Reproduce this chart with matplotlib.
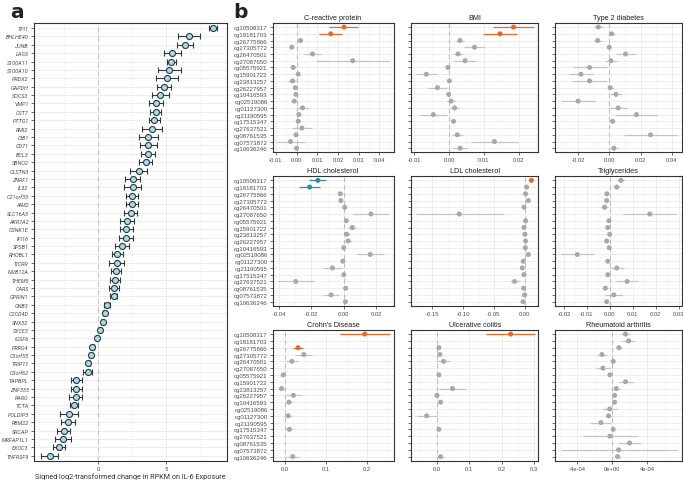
import numpy as np
import matplotlib
matplotlib.use("Agg")
import matplotlib.pyplot as plt
from matplotlib.ticker import FixedLocator, FuncFormatter

nan = np.nan

# ---- panel a: gene expression changes ----
genes = ["TPI1", "BHLHE40", "JUNB", "LAG3", "S100A11", "S100A10", "PRDX2", "GAPDH",
         "SOCS3", "VMP1", "CST7", "PTTG1", "RMI2", "CIB1", "CD71", "BCL3", "SBNO2",
         "CLSTN3", "ZNRF1", "IL32", "C21orf33", "AIM2", "SLC16A3", "AKR7A2", "CSNK1E",
         "IFI16", "SPSB1", "RHOBL1", "TICRR", "MVB12A", "THEM5", "CARS", "GPRIN1",
         "GNB3", "C2CD4D", "SNX32", "SYCE3", "IGSF6", "PRRG4", "C5orf55", "TRIP11",
         "C3orf62", "TAPBPL", "ZNF335", "RARG", "TCTA", "POLDIP3", "RBM22", "SRCAP",
         "MRFAP1L1", "EXOC3", "TNFRSF9"]
gene_fc = [8.42, 6.68, 6.39, 5.46, 5.39, 5.24, 5.05, 4.83, 4.56, 4.27, 4.22, 4.14,
           3.97, 3.70, 3.68, 3.66, 3.49, 2.97, 2.56, 2.53, 2.51, 2.49, 2.39, 2.12,
           2.07, 2.05, 1.78, 1.41, 1.36, 1.34, 1.22, 1.17, 1.14, 0.66, 0.48, 0.34,
           0.12, -0.10, -0.42, -0.56, -0.71, -0.78, -1.59, -1.59, -1.66, -1.79,
           -2.12, -2.22, -2.54, -2.59, -2.86, -3.57]
gene_err = [0.30, 0.78, 0.61, 0.63, 0.34, 0.83, 0.80, 0.49, 0.63, 0.50, 0.39, 0.41,
            0.72, 0.67, 0.62, 0.49, 0.46, 0.60, 0.55, 0.61, 0.45, 0.46, 0.48, 0.49,
            0.49, 0.50, 0.51, 0.39, 0.55, 0.37, 0.38, 0.38, 0.24, 0.21, 0.10, 0.10,
            0.08, 0.08, 0.12, 0.13, 0.13, 0.32, 0.40, 0.37, 0.50, 0.30, 0.67, 0.54,
            0.45, 0.56, 0.46, 0.62]

# ---- panel b: CpG associations with traits ----
cpgs = ["cg10508317", "cg18181703", "cg26775866", "cg27305772", "cg26470501",
        "cg27087650", "cg05575921", "cg15901722", "cg23813257", "cg26227957",
        "cg10416593", "cg02519086", "cg01127300", "cg21190595", "cg17515347",
        "cg27637521", "cg08761535", "cg07573872", "cg10636246"]

traits = ["C-reactive protein", "BMI", "Type 2 diabetes", "HDL cholesterol",
          "LDL cholesterol", "Triglycerides", "Crohn's Disease", "Ulcerative colitis",
          "Rheumatoid arthritis"]

crp_est = [0.0229, 0.0165, 0.0019, -0.0023, 0.0077, 0.0271, -0.0016, 0.0008, -0.0019, -0.0006,
           -0.0003, -0.0011, 0.0029, 0.0011, 0.0008, 0.0026, -0.0003, -0.0029, 0.0000]
crp_err = [0.0070, 0.0056, 0.0008, 0.0008, 0.0040, 0.0177, 0.0014, 0.0008, 0.0020, 0.0009,
           0.0008, 0.0015, 0.0030, 0.0009, 0.0008, 0.0048, 0.0008, 0.0070, 0.0008]
bmi_est = [0.0185, 0.0146, 0.0031, 0.0073, 0.0026, 0.0046, -0.0003, -0.0065, 0.0001, -0.0033,
           -0.0001, 0.0006, 0.0016, -0.0045, 0.0013, nan, 0.0024, 0.0130, 0.0032]
bmi_err = [0.0058, 0.0048, 0.0011, 0.0030, 0.0015, 0.0032, 0.0004, 0.0030, 0.0004, 0.0027,
           0.0004, 0.0013, 0.0014, 0.0038, 0.0007, nan, 0.0015, 0.0067, 0.0020]
t2d_est = [-0.0070, 0.0015, -0.0074, 0.0000, 0.0104, 0.0011, -0.0126, -0.0181, -0.0126, 0.0006,
           0.0043, -0.0200, 0.0057, 0.0174, 0.0021, nan, 0.0264, nan, 0.0030]
t2d_err = [0.0027, 0.0022, 0.0026, 0.0010, 0.0064, 0.0039, 0.0109, 0.0077, 0.0110, 0.0023,
           0.0037, 0.0109, 0.0058, 0.0139, 0.0017, nan, 0.0169, nan, 0.0026]
hdl_est = [-0.0160, -0.0211, -0.0021, -0.0018, 0.0006, 0.0168, 0.0016, 0.0053, 0.0018, 0.0027,
           0.0000, 0.0164, -0.0006, -0.0070, 0.0000, -0.0297, 0.0012, -0.0078, 0.0010]
hdl_err = [0.0052, 0.0067, 0.0006, 0.0006, 0.0006, 0.0113, 0.0008, 0.0024, 0.0018, 0.0026,
           0.0006, 0.0084, 0.0008, 0.0058, 0.0006, 0.0113, 0.0006, 0.0050, 0.0006]
ldl_est = [0.0110, 0.0033, 0.0016, 0.0060, -0.0011, -0.1065, 0.0016, -0.0011, 0.0005, 0.0016,
           0.0011, 0.0060, -0.0022, -0.0038, -0.0011, -0.0163, -0.0016, 0.0000, -0.0027]
ldl_err = [0.0030, 0.0020, 0.0020, 0.0020, 0.0020, 0.0706, 0.0020, 0.0020, 0.0020, 0.0020,
           0.0020, 0.0020, 0.0020, 0.0020, 0.0020, 0.0082, 0.0020, 0.0020, 0.0020]
tg_est = [0.0048, 0.0030, -0.0013, -0.0014, -0.0023, 0.0174, -0.0004, -0.0009, -0.0001, -0.0014,
          -0.0003, -0.0142, -0.0009, 0.0030, -0.0009, 0.0075, -0.0020, 0.0017, -0.0014]
tg_err = [0.0017, 0.0013, 0.0005, 0.0005, 0.0015, 0.0116, 0.0005, 0.0005, 0.0005, 0.0012,
          0.0005, 0.0072, 0.0005, 0.0031, 0.0005, 0.0047, 0.0013, 0.0037, 0.0005]
cd_est = [0.194, nan, 0.032, 0.046, 0.017, nan, -0.004, nan, -0.008, 0.021,
          0.0097, nan, 0.008, nan, 0.011, nan, nan, nan, 0.019]
cd_err = [0.061, nan, 0.011, 0.021, 0.0145, nan, 0.006, nan, 0.009, 0.018,
          0.007, nan, 0.009, nan, 0.009, nan, nan, nan, 0.015]
uc_est = [0.228, nan, 0.007, 0.010, 0.0215, nan, 0.007, nan, 0.049, 0.001,
          0.012, nan, -0.031, nan, 0.007, nan, nan, nan, 0.012]
uc_err = [0.076, nan, 0.004, 0.004, 0.0205, nan, 0.004, nan, 0.042, 0.004,
          0.004, nan, 0.031, nan, 0.004, nan, nan, nan, 0.011]
ra_est = [1.52e-4, 1.87e-4, 0.76e-4, -1.18e-4, 0.11e-4, -1.07e-4, -0.27e-4, 1.52e-4, 0.46e-4, 0.27e-4,
          0.27e-4, -0.30e-4, -0.42e-4, -1.30e-4, 0.11e-4, -0.27e-4, 1.98e-4, 0.72e-4, 0.61e-4]
ra_err = [0.52e-4, 0.76e-4, 0.36e-4, 0.53e-4, 0.15e-4, 0.84e-4, 0.15e-4, 0.80e-4, 0.38e-4, 0.15e-4,
          0.15e-4, 0.84e-4, 0.38e-4, 1.20e-4, 0.15e-4, 3.09e-4, 1.30e-4, 6.63e-4, 0.34e-4]

# significant hits: index -> colour group
crp_sig = {0: "up", 1: "up"}
bmi_sig = {0: "up", 1: "up"}
t2d_sig = {}
hdl_sig = {0: "down", 1: "down"}
ldl_sig = {0: "up"}
tg_sig = {}
cd_sig = {0: "up", 2: "up"}
uc_sig = {0: "up"}
ra_sig = {}

trait_est = [crp_est, bmi_est, t2d_est, hdl_est, ldl_est, tg_est, cd_est, uc_est, ra_est]
trait_err = [crp_err, bmi_err, t2d_err, hdl_err, ldl_err, tg_err, cd_err, uc_err, ra_err]
trait_sig = [crp_sig, bmi_sig, t2d_sig, hdl_sig, ldl_sig, tg_sig, cd_sig, uc_sig, ra_sig]

# axis settings for each facet (x limits, major ticks)
xlims = [(-0.0116, 0.0468), (-0.0109, 0.0256), (-0.0347, 0.0462),
         (-0.0441, 0.0308), (-0.185, 0.0223), (-0.0239, 0.0312),
         (-0.030, 0.264), (-0.079, 0.313), (-6.55e-4, 7.92e-4)]
xticks = [[-0.01, 0.0, 0.01, 0.02, 0.03, 0.04], [-0.01, 0.0, 0.01, 0.02],
          [-0.02, 0.0, 0.02, 0.04], [-0.04, -0.02, 0.0, 0.02],
          [-0.15, -0.10, -0.05, 0.0], [-0.02, -0.01, 0.0, 0.01, 0.02, 0.03],
          [0.0, 0.1, 0.2], [0.0, 0.1, 0.2, 0.3], [-4e-4, 0.0, 4e-4]]
xfmts = ["%.2f"] * 6 + ["%.1f", "%.1f", "sci"]

UP = "#e4672e"
DOWN = "#2f8aae"
GREY_PT = "#a8a8a8"
GREY_ERR = "#c4c4c4"
GRID = "#ebebeb"
GRID_MIN = "#f4f4f4"
BORDER = "#333333"
TXT = "#4d4d4d"

W, H = 683, 481
fig = plt.figure(figsize=(W / 100, H / 100), dpi=100)


def px_axes(x0, y0, x1, y1):
    return fig.add_axes([x0 / W, 1 - y1 / H, (x1 - x0) / W, (y1 - y0) / H])


def style_axes(ax):
    for s in ax.spines.values():
        s.set_color(BORDER)
        s.set_linewidth(0.8)
    ax.set_axisbelow(True)
    ax.tick_params(axis="both", which="major", length=2, width=0.5, color=BORDER,
                   labelsize=4.2, labelcolor=TXT, pad=1.5)
    ax.tick_params(axis="both", which="minor", length=0)


# ---------- panel a ----------
ax = px_axes(33.5, 24, 226.7, 461.7)
style_axes(ax)
ya = np.arange(len(genes))
ax.axvline(0, color="#c8c8c8", ls=(0, (4, 3)), lw=0.9, zorder=2)
ax.errorbar(gene_fc, ya, xerr=gene_err, fmt="none", ecolor="#2b3a42",
            elinewidth=0.8, capsize=2.0, capthick=0.8, zorder=3)
ax.scatter(gene_fc, ya, s=19, facecolor="#add8e6", edgecolor="#2b3a42",
           linewidth=0.8, zorder=4)
ax.set_xlim(-4.75, 9.45)
ax.set_ylim(len(genes) - 0.4, -0.6)
ax.set_yticks(ya)
ax.set_yticklabels(genes, fontstyle="italic", fontsize=4.0, color=TXT, family="Roboto")
ax.set_xticks([0, 5])
ax.set_xticklabels(["0", "5"], family="Roboto")
ax.xaxis.set_minor_locator(FixedLocator([-2.5, 2.5, 7.5]))
ax.grid(which="major", color=GRID, lw=0.6)
ax.grid(which="minor", axis="x", color=GRID_MIN, lw=0.5)
ax.set_xlabel("Signed log2-transformed change in RPKM on IL-6 Exposure",
              fontsize=5.2, color="#333333", family="Roboto", labelpad=1.2)
fig.text(10 / W, 1 - 18 / H, "a", fontsize=14.5, fontweight="bold", color="#222222")
fig.text(233 / W, 1 - 18 / H, "b", fontsize=14.5, fontweight="bold", color="#222222")

# ---------- panel b ----------
cols = [(272.5, 393.5), (411, 538.3), (555, 681.5)]
rows = [(24, 153.3), (177.3, 306.7), (331, 461.7)]
yb = np.arange(len(cpgs))


def sci_fmt(v, pos):
    if abs(v) < 1e-12:
        return "0e+00"
    return "%.0e" % v


for i, name in enumerate(traits):
    r, c = divmod(i, 3)
    ax = px_axes(cols[c][0], rows[r][0], cols[c][1], rows[r][1])
    style_axes(ax)
    est = np.array(trait_est[i], dtype=float)
    err = np.array(trait_err[i], dtype=float)
    colors = []
    for k in range(len(cpgs)):
        g = trait_sig[i].get(k)
        colors.append(UP if g == "up" else DOWN if g == "down" else GREY_PT)
    ecol = [cc if cc != GREY_PT else GREY_ERR for cc in colors]
    ax.axvline(0, color="#bdbdbd", ls=(0, (4, 3)), lw=0.8, zorder=2)
    ok = ~np.isnan(est)
    ax.hlines(yb[ok], (est - err)[ok], (est + err)[ok],
              colors=[ecol[k] for k in range(len(cpgs)) if ok[k]], lw=0.9, zorder=3)
    ax.scatter(est[ok], yb[ok], s=13, c=[colors[k] for k in range(len(cpgs)) if ok[k]],
               linewidths=0, zorder=4)
    ax.set_xlim(*xlims[i])
    ax.set_ylim(len(cpgs) - 0.4, -0.6)
    ax.set_yticks(yb)
    if c == 0:
        ax.set_yticklabels(cpgs, fontsize=4.4, color=TXT, family="Liberation Sans")
    else:
        ax.set_yticklabels([])
    t = xticks[i]
    ax.set_xticks(t)
    step = t[1] - t[0]
    ax.xaxis.set_minor_locator(FixedLocator([t[0] - step / 2] + [v + step / 2 for v in t]))
    if xfmts[i] == "sci":
        ax.xaxis.set_major_formatter(FuncFormatter(sci_fmt))
    else:
        f = xfmts[i]
        ax.xaxis.set_major_formatter(FuncFormatter(lambda v, pos, f=f: f % (0.0 if abs(v) < 1e-12 else v)))
    for lab in ax.get_xticklabels():
        lab.set_family("Liberation Sans")
    ax.grid(which="major", color=GRID, lw=0.6)
    ax.grid(which="minor", axis="x", color=GRID_MIN, lw=0.5)
    ax.set_title(name, fontsize=5.2, color="#222222", pad=3, family="Liberation Sans")

fig.savefig("out.png", dpi=100, facecolor="white")
